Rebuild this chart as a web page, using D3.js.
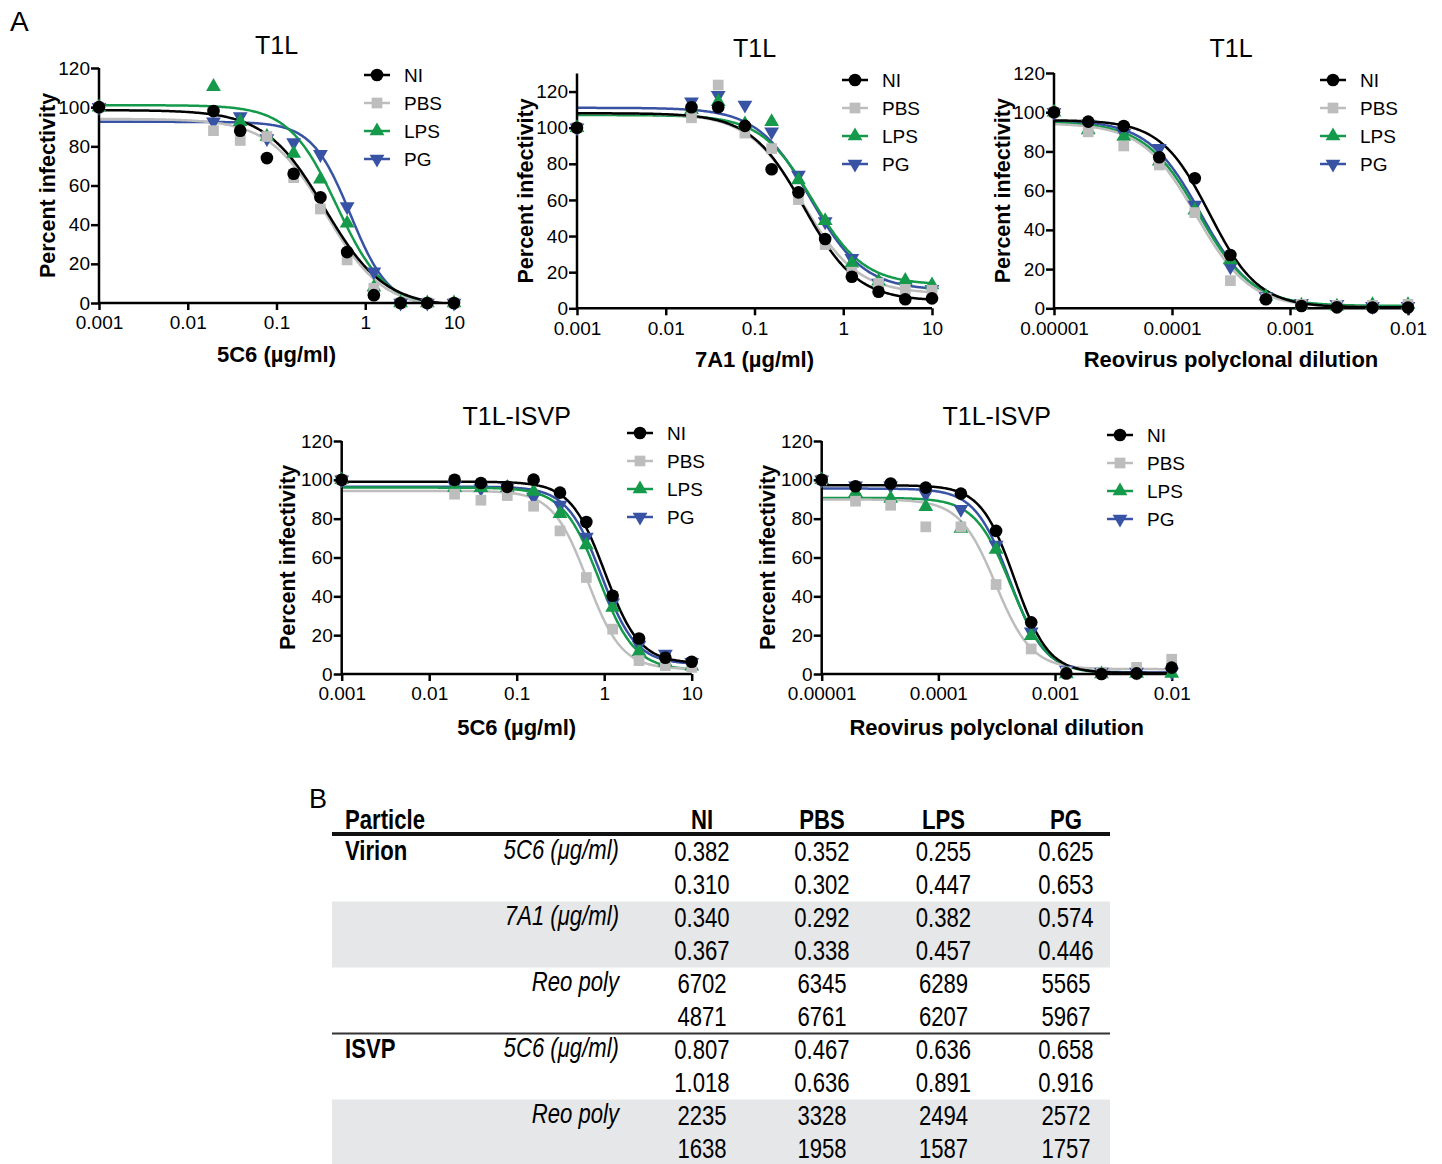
<!DOCTYPE html>
<html>
<head>
<meta charset="utf-8">
<script src="https://cdn.jsdelivr.net/npm/d3@7"></script>
<style>
  body { margin: 0; background: #fff; }
  svg { display: block; font-family: "Liberation Sans", Arial, sans-serif; }
</style>
</head>
<body>
<svg id="fig" width="1442" height="1164"></svg>
<script>
// dilution series (first point = no antibody / no serum, plotted at the axis start)
const doseAb = [0.001, 0.0195, 0.039, 0.078, 0.156, 0.3125, 0.625, 1.25, 2.5, 5, 10];
const doseReo = [0.00001, 0.0000195, 0.000039, 0.000078, 0.000156, 0.0003125, 0.000625, 0.00125, 0.0025, 0.005, 0.01];
const tickAb = [0.001, 0.01, 0.1, 1, 10];
const tickReo = [0.00001, 0.0001, 0.001, 0.01];
const yTicks = [0, 20, 40, 60, 80, 100, 120];
const groups = ["NI", "PBS", "LPS", "PG"];

// T1L virion, 5C6
const v5c6NI  = [100, 98, 88, 74, 66, 54, 26, 4, 0, 0, 0];
const v5c6PBS = [100, 88, 83, 85, 64, 48, 22, 7.5, 0, 0, 0];
const v5c6LPS = [100, 110.5, 92.6, 85, 76.4, 63.2, 40.7, 8, 0, 0, 0];
const v5c6PG  = [100, 92.6, 95.2, 84, 82, 75.9, 49.2, 16, 0, 0, 0];
// fitted curves: [top, bottom, EC50, hill]
const v5c6Fit = [[98.5, -2, 0.35, 1.3], [94, -3, 0.36, 1.35], [101, -2, 0.48, 1.6], [92.5, -2, 0.68, 2.0]];

// T1L virion, 7A1
const v7a1NI  = [100, 111.3, 111.3, 101, 77, 64.2, 38.4, 17.5, 9.2, 5, 5.5];
const v7a1PBS = [100, 105.5, 123.6, 97, 88.4, 60.2, 35.3, 20, 13.8, 10.5, 10];
const v7a1LPS = [100, 110, 114.4, 102, 103.3, 71, 48.5, 24.9, 15, 15.3, 12.9];
const v7a1PG  = [100, 114.4, 118, 112.6, 97.8, 73.8, 48, 27.7, 14, 12, 10.5];
const v7a1Fit = [[108, 4, 0.36, 1.45], [108, 8, 0.35, 1.4], [107, 13, 0.45, 1.5], [111, 10, 0.43, 1.45]];

// T1L virion, reovirus polyclonal serum
const vReoNI  = [100, 95.2, 93, 77, 66.3, 27.2, 4.6, 1.2, 0.5, 0.4, 0.4];
const vReoPBS = [100, 90, 82.8, 73.1, 48.8, 14.1, 5, 2, 1.5, 1.5, 2];
const vReoLPS = [100, 91, 87.6, 75, 50, 24.6, 6, 1.5, 1, 1.8, 1.8];
const vReoPG  = [100, 94, 89.3, 81.6, 52.7, 21.2, 6, 2.5, 2, 1, 1];
const vReoFit = [[96, 0.5, 0.000208, 2.1], [94.4, 0.5, 0.00016, 1.9], [95, 1.2, 0.000168, 1.9], [95.8, 0.8, 0.000175, 1.95]];

// T1L ISVP, 5C6
const i5c6NI  = [100, 100, 98.4, 96.4, 100.1, 93.4, 78.3, 40.3, 18.3, 8.4, 6.3];
const i5c6PBS = [100, 92.6, 89.5, 91.9, 86.4, 73.7, 49.7, 23.1, 6.9, 4.3, 3.4];
const i5c6LPS = [100, 96, 96, 96, 94, 82.6, 66.4, 34.3, 11.5, 6, 4];
const i5c6PG  = [100, 97.2, 95.5, 96, 91.2, 87, 70.6, 36.7, 14.9, 10.3, 6];
const i5c6Fit = [[99, 5.5, 1.02, 2.2], [94.3, 2.5, 0.64, 2.2], [96, 2, 0.87, 2.1], [96.5, 5, 0.93, 2.2]];

// T1L ISVP, reovirus polyclonal serum
const iReoNI  = [100, 96.7, 98.1, 96, 92.9, 73.7, 26.6, 0.3, 0, 0.3, 3.3];
const iReoPBS = [100, 89, 86.9, 75.8, 75.8, 46.1, 12.9, 1, 0.5, 3.4, 7.6];
const iReoLPS = [100, 93.3, 90.4, 86.1, 74.9, 64.1, 19.7, 0, 0, 0.3, 0.3];
const iReoPG  = [100, 97, 97, 92.6, 84.9, 66.4, 21.8, 2, 1, 1, 1];
const iReoFit = [[97.2, 0.5, 0.00045, 3.0], [89.9, 2.5, 0.00031, 2.8], [90.7, 0.3, 0.00042, 2.8], [95.5, 0.8, 0.00041, 2.9]];

// table B
const tableCols = ["NI", "PBS", "LPS", "PG"];
const rowParticle = ["Virion", "", "", "", "", "", "ISVP", "", "", ""];
const rowAssay = ["5C6 (μg/ml)", "", "7A1 (μg/ml)", "", "Reo poly", "", "5C6 (μg/ml)", "", "Reo poly", ""];
const rowValues = [
  ["0.382", "0.352", "0.255", "0.625"],
  ["0.310", "0.302", "0.447", "0.653"],
  ["0.340", "0.292", "0.382", "0.574"],
  ["0.367", "0.338", "0.457", "0.446"],
  ["6702", "6345", "6289", "5565"],
  ["4871", "6761", "6207", "5967"],
  ["0.807", "0.467", "0.636", "0.658"],
  ["1.018", "0.636", "0.891", "0.916"],
  ["2235", "3328", "2494", "2572"],
  ["1638", "1958", "1587", "1757"]
];

const colors = { NI: "#000000", PBS: "#bdbdbd", LPS: "#159a4b", PG: "#3953a4" };
const shapes = {
  NI: d3.symbol().type(d3.symbolCircle).size(125),
  PBS: d3.symbol().type(d3.symbolSquare).size(115),
  LPS: d3.symbol().type(d3.symbolTriangle).size(95),
  PG: d3.symbol().type(d3.symbolTriangle).size(95)
};
const rot = g => g === "PG" ? " rotate(180)" : "";

const panels = [
  { title: "T1L", xLabel: "5C6 (µg/ml)", dose: doseAb, ticks: tickAb, values: [v5c6NI, v5c6PBS, v5c6LPS, v5c6PG], fits: v5c6Fit,
    left: 99, right: 454, top: 68, bottom: 303, yMax: 120, titleY: 54, xLabelY: 362, yLabelX: 47, legX: 377, legY: 75 },
  { title: "T1L", xLabel: "7A1 (µg/ml)", dose: doseAb, ticks: tickAb, values: [v7a1NI, v7a1PBS, v7a1LPS, v7a1PG], fits: v7a1Fit,
    left: 577, right: 932, top: 73.5, bottom: 308.3, yMax: 130, titleY: 57, xLabelY: 367, yLabelX: 525, legX: 855, legY: 80 },
  { title: "T1L", xLabel: "Reovirus polyclonal dilution", dose: doseReo, ticks: tickReo, values: [vReoNI, vReoPBS, vReoLPS, vReoPG], fits: vReoFit,
    left: 1054, right: 1408, top: 73, bottom: 308.3, yMax: 120, titleY: 57, xLabelY: 367, yLabelX: 1002, legX: 1333, legY: 80 },
  { title: "T1L-ISVP", xLabel: "5C6 (µg/ml)", dose: doseAb, ticks: tickAb, values: [i5c6NI, i5c6PBS, i5c6LPS, i5c6PG], fits: i5c6Fit,
    left: 341.7, right: 691.7, top: 441, bottom: 674, yMax: 120, titleY: 425, xLabelY: 735, yLabelX: 287, legX: 640, legY: 433 },
  { title: "T1L-ISVP", xLabel: "Reovirus polyclonal dilution", dose: doseReo, ticks: tickReo, values: [iReoNI, iReoPBS, iReoLPS, iReoPG], fits: iReoFit,
    left: 821.7, right: 1171.7, top: 441, bottom: 674, yMax: 120, titleY: 425, xLabelY: 735, yLabelX: 767, legX: 1120, legY: 435 }
];

const svg = d3.select("#fig");
svg.append("rect").attr("width", 1442).attr("height", 1164).attr("fill", "#fff");
const defs = svg.append("defs");

svg.append("text").attr("x", 10).attr("y", 31).attr("font-size", 28).text("A");

function logistic(p, x) {
  const [top, bot, ec50, hill] = p;
  return bot + (top - bot) / (1 + Math.pow(x / ec50, hill));
}

panels.forEach((p, pi) => {
  const x = d3.scaleLog().domain(d3.extent(p.dose)).range([p.left, p.right]);
  const y = d3.scaleLinear().domain([0, p.yMax]).range([p.bottom, p.top]);
  const g = svg.append("g");

  defs.append("clipPath").attr("id", "clip" + pi)
    .append("rect").attr("x", p.left).attr("y", p.top - 40)
    .attr("width", p.right - p.left + 4).attr("height", p.bottom - p.top + 40);

  // fitted curves
  const lo = Math.log10(x.domain()[0]), hi = Math.log10(x.domain()[1]);
  const xs = d3.range(301).map(i => Math.pow(10, lo + (hi - lo) * i / 300));
  const line = d3.line().x(d => x(d[0])).y(d => y(d[1]));
  const curves = g.append("g").attr("clip-path", `url(#clip${pi})`);
  [3, 2, 1, 0].forEach(k => {
    curves.append("path")
      .attr("d", line(xs.map(v => [v, logistic(p.fits[k], v)])))
      .attr("fill", "none")
      .attr("stroke", colors[groups[k]])
      .attr("stroke-width", 2.5);
  });

  // axes
  const ax = g.append("g").attr("transform", `translate(0,${p.bottom})`)
    .call(d3.axisBottom(x).tickValues(p.ticks).tickFormat(d => String(d)).tickSize(7).tickPadding(6));
  const ay = g.append("g").attr("transform", `translate(${p.left},0)`)
    .call(d3.axisLeft(y).tickValues(yTicks).tickSize(8).tickPadding(1));
  [ax, ay].forEach(a => {
    a.select(".domain").attr("stroke", "#000").attr("stroke-width", 2.5);
    a.selectAll(".tick line").attr("stroke", "#000").attr("stroke-width", 2.5);
    a.selectAll(".tick text").attr("font-size", 19).attr("fill", "#000")
      .attr("font-family", "Liberation Sans, Arial, sans-serif");
  });
  ax.select(".domain").attr("d", `M${p.left},0H${p.right}`);
  ay.select(".domain").attr("d", `M0,${p.bottom}V${p.top}`);

  // points
  [3, 2, 1, 0].forEach(k => {
    const grp = groups[k];
    g.append("g").selectAll("path")
      .data(p.values[k].map((v, i) => [p.dose[i], v]))
      .join("path")
      .attr("d", shapes[grp])
      .attr("transform", d => `translate(${x(d[0])},${y(d[1])})` + rot(grp))
      .attr("fill", colors[grp]);
  });

  // titles
  g.append("text").attr("x", (p.left + p.right) / 2).attr("y", p.titleY)
    .attr("text-anchor", "middle").attr("font-size", 25).text(p.title);
  g.append("text").attr("x", (p.left + p.right) / 2).attr("y", p.xLabelY)
    .attr("text-anchor", "middle").attr("font-size", 22).attr("font-weight", "bold").text(p.xLabel);
  g.append("text")
    .attr("transform", `translate(${p.yLabelX},${(p.top + p.bottom) / 2}) rotate(-90)`)
    .attr("text-anchor", "middle").attr("dy", "0.35em")
    .attr("font-size", 21.5).attr("font-weight", "bold").text("Percent infectivity");

  // legend
  groups.forEach((grp, k) => {
    const ly = p.legY + k * 28;
    g.append("line").attr("x1", p.legX - 13).attr("x2", p.legX + 13).attr("y1", ly).attr("y2", ly)
      .attr("stroke", colors[grp]).attr("stroke-width", 2.5);
    g.append("path").attr("d", shapes[grp]).attr("fill", colors[grp])
      .attr("transform", `translate(${p.legX},${ly})` + rot(grp));
    g.append("text").attr("x", p.legX + 27).attr("y", ly).attr("dy", "0.35em")
      .attr("font-size", 19).text(grp);
  });
});

// ---- table B ----
function hasFont(name) {
  const c = document.createElement("canvas").getContext("2d");
  c.font = "40px monospace";
  const w0 = c.measureText("0.382 Particle").width;
  c.font = `40px "${name}", monospace`;
  return c.measureText("0.382 Particle").width !== w0;
}
const narrow = hasFont("Liberation Sans Narrow");
const tFont = narrow ? "Liberation Sans Narrow" : "Liberation Sans";
const tSize = 27;
const tScale = narrow ? 1 : 0.82;

const tb = svg.append("g");
function tText(xp, yp, s, anchor, bold, italic) {
  return tb.append("text")
    .attr("transform", `translate(${xp},${yp}) scale(${tScale},1)`)
    .attr("text-anchor", anchor)
    .attr("font-family", tFont)
    .attr("font-size", tSize)
    .attr("font-weight", bold ? "bold" : "normal")
    .attr("font-style", italic ? "italic" : "normal")
    .text(s);
}

svg.append("text").attr("x", 309).attr("y", 808).attr("font-size", 27).text("B");

const colX = [702, 822, 943.5, 1066];
const rowH = 33;
const rowY = d3.range(rowValues.length).map(i => 852 + i * rowH);
const tLeft = 332, tRight = 1110;

// shaded bands (last band runs to the bottom edge)
[[2, 3], [8, 9]].forEach(([a, b]) => {
  tb.append("rect").attr("x", tLeft).attr("width", tRight - tLeft)
    .attr("y", rowY[a] - rowH / 2).attr("height", Math.min(rowY[b] - rowY[a] + rowH, 1164 - rowY[a] + rowH / 2))
    .attr("fill", "#e6e7e8");
});

tb.append("line").attr("x1", tLeft).attr("x2", tRight).attr("y1", 834).attr("y2", 834)
  .attr("stroke", "#111").attr("stroke-width", 4);
tb.append("line").attr("x1", tLeft).attr("x2", tRight)
  .attr("y1", (rowY[5] + rowY[6]) / 2).attr("y2", (rowY[5] + rowY[6]) / 2)
  .attr("stroke", "#333").attr("stroke-width", 2);

tText(345, 829, "Particle", "start", true, false);
tableCols.forEach((c, j) => tText(colX[j], 829, c, "middle", true, false));

rowValues.forEach((vals, i) => {
  const by = rowY[i] + 9;
  if (rowParticle[i]) tText(345, by - 1, rowParticle[i], "start", true, false);
  if (rowAssay[i]) tText(619, by - 2, rowAssay[i], "end", false, true);
  vals.forEach((v, j) => tText(colX[j], by, v, "middle", false, false));
});
</script>
</body>
</html>
